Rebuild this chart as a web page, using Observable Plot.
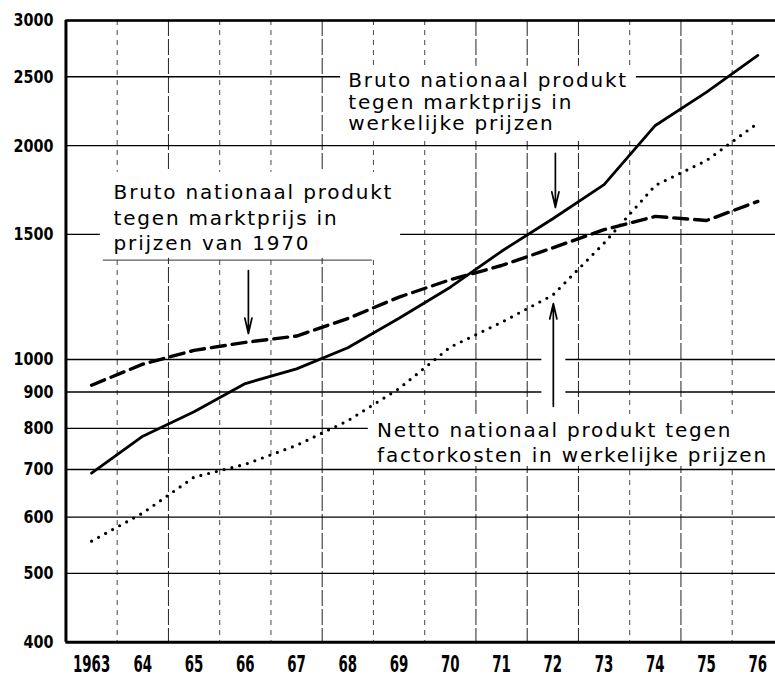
<!DOCTYPE html>
<html><head><meta charset="utf-8">
<script src="https://cdn.jsdelivr.net/npm/d3@7"></script>
<script src="https://cdn.jsdelivr.net/npm/@observablehq/plot@0.6"></script>
<style>
body{margin:0;background:#fff;}
</style>
</head><body><div id="chart"></div>
<script>
// ---- data ----
const years = [1963,1964,1965,1966,1967,1968,1969,1970,1971,1972,1973,1974,1975,1976];
const bnpCurrent = [692,780,844,925,970,1039,1143,1264,1420,1578,1762,2135,2378,2679];
const bnp1970    = [920,985,1030,1057,1079,1142,1224,1295,1356,1436,1523,1590,1569,1669];
const nnpFactor  = [555,608,683,712,757,820,910,1041,1128,1232,1458,1758,1906,2151];
const yTicks = [400,500,600,700,800,900,1000,1500,2000,2500,3000];
const xTicks = years;
const xTickLabels = ["1963","64","65","66","67","68","69","70","71","72","73","74","75","76"];
const gridSolid = [1964.5,1967.5,1970.5,1971.5,1972.5,1974.5];
const gridDashed = [1963.5,1965.5,1966.5,1968.5,1969.5,1973.5,1975.5];

// annotation texts (data coordinates: year, value at baseline)
const labelLines = [
  {text:"Bruto nationaal produkt", x:1968.01, y:2417},
  {text:"tegen marktprijs in",     x:1968.01, y:2253},
  {text:"werkelijke prijzen",      x:1968.01, y:2101},
  {text:"Bruto nationaal produkt", x:1963.43, y:1684},
  {text:"tegen marktprijs in",     x:1963.43, y:1544},
  {text:"prijzen van 1970",        x:1963.43, y:1424},
  {text:"Netto nationaal produkt tegen",       x:1968.57, y:778},
  {text:"factorkosten in werkelijke prijzen",  x:1968.57, y:717}
];
const labelBoxes = [
  {x1:1967.86, x2:1973.63, y1:2027, y2:2586},
  {x1:1963.17, x2:1969.03, y1:1388, y2:1834},
  {x1:1968.40, x2:1976.40, y1:707,  y2:837}
];
const arrows = [
  {x:1966.06, y1:1334, y2:1088},
  {x:1972.05, y1:1950, y2:1637},
  {x:1972.01, y1:859,  y2:1199}
];
const arrowHalo = [{x:1972.01, y1:859, y2:1060}];
const boxEdge = [{y:1380, x1:1963.23, x2:1968.48}];

const rows = (vals) => years.map((year, i) => ({year, value: vals[i]}));
const font = "DejaVu Sans";

const plot = Plot.plot({
  width: 775,
  height: 677,
  marginLeft: 65.45,
  marginRight: 0,
  marginTop: 20,
  marginBottom: 35.3,
  style: {fontFamily: font, background: "white", color: "black", overflow: "visible"},
  x: {type: "linear", domain: [1962.5, 1976.345], axis: null},
  y: {type: "log", domain: [400, 3000], axis: null},
  marks: [
    Plot.ruleX(gridDashed, {stroke: "#333", strokeWidth: 0.9, strokeDasharray: "5,5"}),
    Plot.ruleX(gridSolid, {stroke: "#222", strokeWidth: 1, strokeDasharray: "16,3"}),
    Plot.ruleY(yTicks, {stroke: "black", strokeWidth: 1.4}),
    Plot.rect(labelBoxes, {x1: "x1", x2: "x2", y1: "y1", y2: "y2", fill: "white"}),
    Plot.ruleX(arrowHalo, {x: "x", y1: "y1", y2: "y2", stroke: "white", strokeWidth: 24}),
    Plot.ruleY(boxEdge, {y: "y", x1: "x1", x2: "x2", stroke: "#333", strokeWidth: 1}),
    Plot.line(rows(nnpFactor), {x: "year", y: "value", stroke: "black", strokeWidth: 3.2,
      strokeDasharray: "0,8", strokeLinecap: "round"}),
    Plot.line(rows(bnp1970), {x: "year", y: "value", stroke: "black", strokeWidth: 3.4,
      strokeDasharray: "14,7"}),
    Plot.line(rows(bnpCurrent), {x: "year", y: "value", stroke: "black", strokeWidth: 2.8,
      strokeLinejoin: "round"}),
    Plot.ruleY([3000], {stroke: "black", strokeWidth: 2.5}),
    Plot.ruleY([400], {stroke: "black", strokeWidth: 3}),
    Plot.ruleX([1962.5], {stroke: "black", strokeWidth: 3}),
    Plot.arrow(arrows, {x1: "x", x2: "x", y1: "y1", y2: "y2", stroke: "black",
      strokeWidth: 1.7, headLength: 14, headAngle: 26}),
    Plot.text(labelLines, {x: "x", y: "y", text: "text", textAnchor: "start", lineAnchor: "bottom",
      fontSize: 20, fontFamily: font, fill: "black"}),
    Plot.axisY(yTicks, {tickSize: 0, tickPadding: 12.5, fontSize: 18.5, fontWeight: "bold",
      fontFamily: font, tickFormat: d => String(d)}),
    Plot.axisX(xTicks, {tickSize: 0, tickPadding: 13.5, fontSize: 23, fontWeight: "bold",
      fontFamily: font, tickFormat: d => xTickLabels[xTicks.indexOf(d)]})
  ]
});

const root = d3.select(plot);
root.selectAll('g[aria-label="text"] text').style("letter-spacing", "1.8px");
root.selectAll('g[aria-label="y-axis tick label"] text').each(function () {
  const n = this.textContent.length;
  this.setAttribute("textLength", 10 * n);
  this.setAttribute("lengthAdjust", "spacingAndGlyphs");
});
root.selectAll('g[aria-label="x-axis tick label"] text').each(function () {
  const n = this.textContent.length;
  this.setAttribute("textLength", 9.3 * n);
  this.setAttribute("lengthAdjust", "spacingAndGlyphs");
});
document.getElementById("chart").appendChild(plot);
</script>
</body></html>
